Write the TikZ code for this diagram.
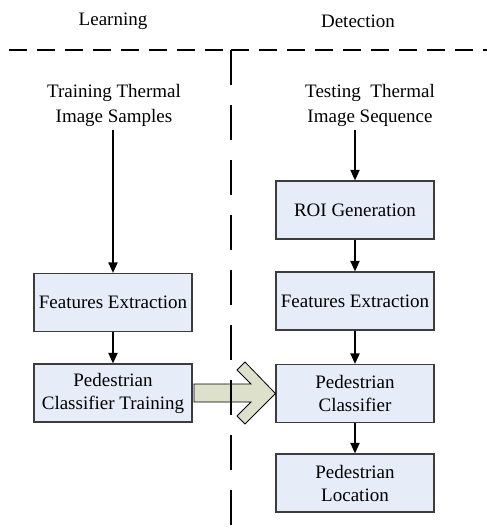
\documentclass[tikz,border=0pt]{standalone}
\usepackage{fontspec}
\setmainfont{Liberation Serif}
\usetikzlibrary{arrows.meta}

\definecolor{boxfill}{RGB}{230,236,248}
\definecolor{boxline}{RGB}{60,60,60}
\definecolor{bigarrow}{RGB}{221,224,202}

\tikzset{
  txt/.style={font=\fontsize{19}{23}\selectfont, align=center, inner sep=0pt},
  srctxt/.style={txt, font=\fontsize{19}{25}\selectfont},
  stage/.style={txt, draw=boxline, line width=1.1pt, fill=boxfill,
                minimum width=158pt, minimum height=58pt},
  flow/.style={line width=1.8pt, -{Triangle[length=10.5pt,width=9pt]}},
  hdash/.style={line width=2.7pt, dash pattern=on 18pt off 10pt},
  vdash/.style={line width=2.7pt, dash pattern=on 35pt off 20pt},
}

\begin{document}
\begin{tikzpicture}[x=1pt, y=-1pt]
  \useasboundingbox (0,0) rectangle (487,528);

  % column headings
  \node[txt] (learn) at (113,21) {Learning};
  \node[txt] (detect) at (358,21) {Detection};

  % inputs
  \node[srctxt] (train) at (114,105) {Training Thermal\\Image Samples};
  \node[srctxt] (test)  at (370,105) {Testing\ \ Thermal\\Image Sequence};

  % learning branch
  \node[stage] (lfe)  at (113,302.5) {Features Extraction};
  \node[stage] (lpct) at (113,393)   {Pedestrian\\Classifier Training};

  % detection branch
  \node[stage] (roi)  at (355,210)   {ROI Generation};
  \node[stage] (rfe)  at (355,301)   {Features Extraction};
  \node[stage] (rpc)  at (355,393.5) {Pedestrian\\Classifier};
  \node[stage] (rloc) at (355,483)   {Pedestrian\\Location};

  % flow arrows
  \draw[flow] ([yshift=-4pt]train.south -| lfe.north) -- (lfe.north);
  \draw[flow] (lfe.south) -- (lpct.north);
  \draw[flow] ([yshift=-4pt]test.south -| roi.north) -- (roi.north);
  \draw[flow] (roi.south) -- (rfe.north);
  \draw[flow] (rfe.south) -- (rpc.north);
  \draw[flow] (rpc.south) -- (rloc.north);

  % trained classifier handed over to detection
  \filldraw[fill=bigarrow, draw=black, line width=0.8pt, line join=miter]
    (194,384) -- (251,384) -- (237,370) -- (245,362) -- (rpc.west)
    -- (245,424) -- (237,416) -- (251,402) -- (194,402) -- cycle;

  % separators
  \coordinate (corner) at (231,50);
  \coordinate (hl) at (9,50);
  \coordinate (hr) at (487,50);
  \coordinate (vb) at (231,528);
  \draw[hdash] (hl) -- (corner);
  \draw[hdash] (corner) -- (hr);
  \draw[vdash] (corner) -- (vb);
\end{tikzpicture}
\end{document}
